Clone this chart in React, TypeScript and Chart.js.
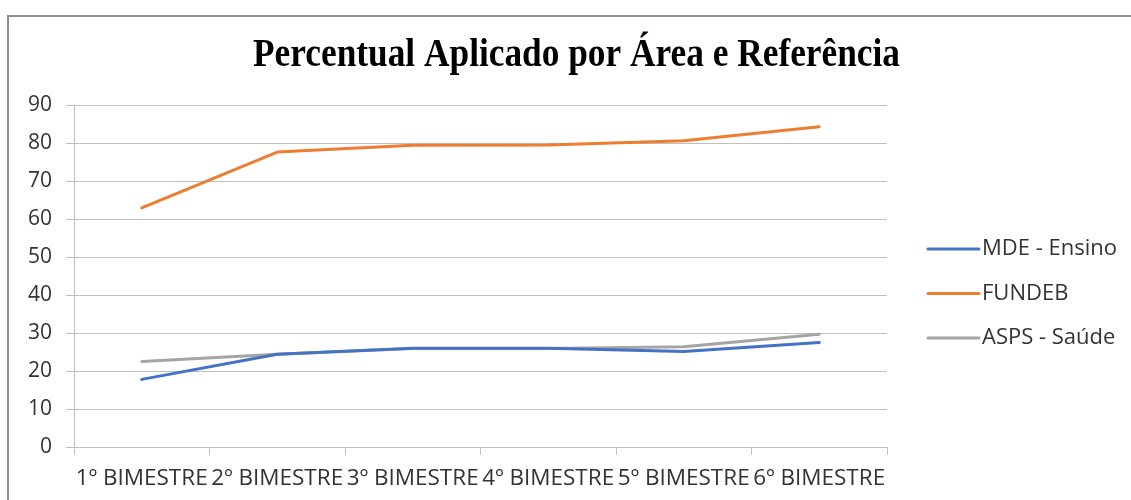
import { useEffect, useRef } from 'react';
import { Chart, registerables } from 'chart.js';

Chart.register(...registerables);

const TITLE = 'Percentual Aplicado por Área e Referência';
const categories = ['1º BIMESTRE', '2º BIMESTRE', '3º BIMESTRE', '4º BIMESTRE', '5º BIMESTRE', '6º BIMESTRE'];
const seriesNames = ['MDE - Ensino', 'FUNDEB', 'ASPS - Saúde'];
const mdeEnsino = [17.8, 24.4, 26.0, 26.0, 25.1, 27.5];
const fundeb = [62.9, 77.6, 79.4, 79.5, 80.6, 84.3];
const aspsSaude = [22.5, 24.4, 25.9, 25.9, 26.4, 29.7];
const seriesColors = ['#4472C4', '#ED7D31', '#A5A5A5'];
const Y_MIN = 0;
const Y_MAX = 90;
const Y_STEP = 10;

const TEXT_FONT = '"Open Sans", "Liberation Sans", sans-serif';
const TEXT_COLOR = '#333333';

const titlePlugin = {
  id: 'condensedTitle',
  afterDraw(chart: any) {
    const ctx = chart.ctx as CanvasRenderingContext2D;
    ctx.save();
    ctx.font = 'bold 40px "Liberation Serif", "Times New Roman", serif';
    const w = ctx.measureText(TITLE).width;
    const sx = 647 / w;
    ctx.translate(576.5, 66);
    ctx.scale(sx, 1);
    ctx.textAlign = 'center';
    ctx.textBaseline = 'alphabetic';
    ctx.fillStyle = '#000000';
    ctx.fillText(TITLE, 0, 0);
    ctx.restore();
  },
};

const legendPlugin = {
  id: 'sideLegend',
  afterDraw(chart: any) {
    const ctx = chart.ctx as CanvasRenderingContext2D;
    ctx.save();
    chart.data.datasets.forEach((ds: any, i: number) => {
      const y = 249 + i * 44.5;
      ctx.strokeStyle = ds.borderColor;
      ctx.lineWidth = 3;
      ctx.lineCap = 'round';
      ctx.beginPath();
      ctx.moveTo(928, y);
      ctx.lineTo(979, y);
      ctx.stroke();
      ctx.font = '22px ' + TEXT_FONT;
      ctx.fillStyle = TEXT_COLOR;
      ctx.textAlign = 'left';
      ctx.textBaseline = 'middle';
      ctx.fillText(ds.label, 982, y);
    });
    ctx.restore();
  },
};

export default function App() {
  const canvasRef = useRef<HTMLCanvasElement | null>(null);

  useEffect(() => {
    if (!canvasRef.current) return;
    const values = [mdeEnsino, fundeb, aspsSaude];
    const chart = new Chart(canvasRef.current, {
      type: 'line',
      data: {
        labels: categories,
        datasets: seriesNames.map((name, i) => ({
          label: name,
          data: values[i],
          borderColor: seriesColors[i],
          backgroundColor: seriesColors[i],
          borderWidth: 3,
          borderCapStyle: 'round',
          borderJoinStyle: 'round',
          pointRadius: 0,
          pointHoverRadius: 0,
          tension: 0,
          fill: false,
        })),
      },
      options: {
        animation: false,
        responsive: false,
        maintainAspectRatio: false,
        layout: { padding: { left: 0, right: 244, top: 105, bottom: 0 } },
        plugins: {
          legend: { display: false },
          title: { display: false },
          tooltip: { enabled: false },
        },
        scales: {
          x: {
            type: 'category',
            offset: true,
            afterFit: (s: any) => { s.height = 53; },
            grid: {
              display: true,
              offset: true,
              drawOnChartArea: false,
              drawTicks: true,
              tickLength: 8,
              color: '#BFBFBF',
              lineWidth: 1,
            },
            border: { display: true, color: '#BFBFBF', width: 1 },
            ticks: {
              autoSkip: false,
              maxRotation: 0,
              minRotation: 0,
              padding: 10,
              color: TEXT_COLOR,
              font: { family: TEXT_FONT, size: 22.5 },
            },
          },
          y: {
            type: 'linear',
            min: Y_MIN,
            max: Y_MAX,
            afterFit: (s: any) => { s.width = 74; },
            grid: {
              color: '#BFBFBF',
              lineWidth: 1,
              drawTicks: true,
              tickLength: 8,
            },
            border: { display: true, color: '#BFBFBF', width: 1 },
            ticks: {
              stepSize: Y_STEP,
              padding: 14,
              color: TEXT_COLOR,
              font: { family: TEXT_FONT, size: 21 },
            },
          },
        },
      },
      plugins: [titlePlugin, legendPlugin],
    });
    return () => chart.destroy();
  }, []);

  return (
    <div style={{ position: 'fixed', left: 0, top: 0, width: 1131, height: 500, background: '#ffffff', overflow: 'hidden' }}>
      <div
        style={{
          position: 'absolute',
          left: 7,
          top: 15,
          width: 1200,
          height: 600,
          borderLeft: '2px solid #8C8C8C',
          borderTop: '2px solid #8C8C8C',
        }}
      />
      <canvas ref={canvasRef} width={1131} height={500} style={{ position: 'absolute', left: 0, top: 0, width: 1131, height: 500 }} />
    </div>
  );
}
